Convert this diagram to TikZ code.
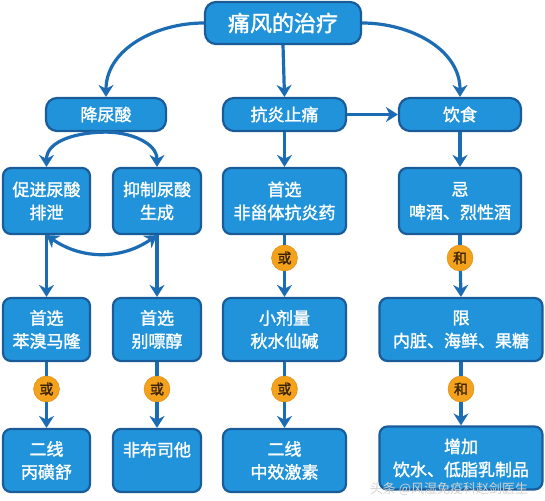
\documentclass[tikz,border=0pt]{standalone}
\usepackage{fontspec}
\setmainfont{Noto Sans CJK SC}[AutoFakeBold=1.6]
\usetikzlibrary{arrows.meta}
\definecolor{boxfill}{HTML}{2193DA}
\definecolor{boxline}{HTML}{1A5C99}
\definecolor{arrcol}{HTML}{1C6CB4}
\definecolor{orfill}{HTML}{F4A11C}
\definecolor{orline}{HTML}{D78509}
\definecolor{ortext}{HTML}{3B2505}

\begin{document}
\begin{tikzpicture}[x=1pt, y=-1pt,
      box/.style={draw=boxline, fill=boxfill, line width=2.2pt, rounded corners=8pt,
                  align=center, inner sep=0pt, text=white,
                  font={\bfseries\fontsize{17}{23}\selectfont}},   % one blue box per step
      link/.style={draw=orline, fill=orfill, circle, minimum size=26pt, inner sep=0pt,
                   text=ortext, font={\bfseries\fontsize{14}{14}\selectfont}},  % 或 / 和
      arr/.style={draw=arrcol, line width=3.2pt, -{Stealth[length=12pt, width=15pt]}},
      dbl/.style={draw=arrcol, line width=3.2pt, {Stealth[length=12pt, width=15pt]}-{Stealth[length=12pt, width=15pt]}},
      line/.style={draw=arrcol, line width=3.2pt}]
    \useasboundingbox (0,0) rectangle (545,500);
    % top and second row
    \node[box, minimum width=156pt, minimum height=42pt, rounded corners=11pt,
          font={\bfseries\fontsize{22}{26}\selectfont}] (title) at (283,23) {痛风的治疗};
    \node[box, minimum width=120pt, minimum height=33pt, rounded corners=11pt] (jns) at (106,114.5) {降尿酸};
    \node[box, minimum width=123pt, minimum height=33pt, rounded corners=11pt] (kyzt) at (284.5,114.5) {抗炎止痛};
    \node[box, minimum width=122pt, minimum height=33pt, rounded corners=11pt] (ys) at (460,114.5) {饮食};
    % third row
    \node[box, minimum width=87pt, minimum height=66pt] (cj) at (46.5,201) {促进尿酸\\排泄};
    \node[box, minimum width=88pt, minimum height=66pt] (yz) at (157,201) {抑制尿酸\\生成};
    \node[box, minimum width=123pt, minimum height=66pt] (nsaid) at (284.5,201) {首选\\非甾体抗炎药};
    \node[box, minimum width=122pt, minimum height=66pt] (ji) at (460,201) {忌\\啤酒、烈性酒};
    % fourth row
    \node[box, minimum width=87pt, minimum height=63pt] (bx) at (46.5,329.5) {首选\\苯溴马隆};
    \node[box, minimum width=88pt, minimum height=63pt] (bpc) at (157,329.5) {首选\\别嘌醇};
    \node[box, minimum width=123pt, minimum height=63pt] (xjl) at (284.5,329.5) {小剂量\\秋水仙碱};
    \node[box, minimum width=163pt, minimum height=63pt] (xian) at (461,329.5) {限\\内脏、海鲜、果糖};
    % bottom row
    \node[box, minimum width=87pt, minimum height=63pt] (bhs) at (46.5,460.5) {二线\\丙磺舒};
    \node[box, minimum width=88pt, minimum height=63pt] (fbst) at (157,460.5) {非布司他\\\mbox{}};
    \node[box, minimum width=123pt, minimum height=63pt] (jisu) at (284.5,460.5) {二线\\中效激素};
    \node[box, minimum width=163pt, minimum height=63pt] (zj) at (461,458) {增加\\饮水、低脂乳制品};
    % or / and circles
    \node[link] (o1) at (284.5,258) {或};
    \node[link] (a1) at (460,258) {和};
    \node[link] (o2) at (46.5,389) {或};
    \node[link] (o3) at (157,389) {或};
    \node[link] (o4) at (284.5,389) {或};
    \node[link] (a2) at (461,389) {和};
    % connectors
    \draw[arr] (title.west) to[out=180, in=90] (jns.north);
    \draw[arr] (title.south) -- (kyzt.north);
    \draw[arr] (title.east) to[out=0, in=90] (ys.north);
    \draw[arr] (kyzt.east) -- (ys.west);
    \draw[arr] (jns.south) to[out=180, in=90] (cj.north);
    \draw[arr] (jns.south) to[out=0, in=90] (yz.north);
    \draw[arr] (kyzt.south) -- (nsaid.north);
    \draw[arr] (ys.south) -- (ji.north);
    \draw[dbl] (cj.south) to[bend right=35] (yz.south);   % both ways
    \draw[arr] (cj.south) -- (bx.north);
    \draw[arr] (yz.south) -- (bpc.north);
    \draw[line] (nsaid.south) -- (o1);
    \draw[arr] (o1) -- (xjl.north);
    \draw[line] (ji.south) -- (a1);
    \draw[arr] (a1) -- (xian.north);
    \draw[line] (bx.south) -- (o2);
    \draw[arr] (o2) -- (bhs.north);
    \draw[line] (bpc.south) -- (o3);
    \draw[arr] (o3) -- (fbst.north);
    \draw[line] (xjl.south) -- (o4);
    \draw[arr] (o4) -- (jisu.north);
    \draw[line] (xian.south) -- (a2);
    \draw[arr] (a2) -- (zj.north);
    % watermark
    \node[text=gray!35, font={\fontsize{13}{13}\selectfont}] (wm) at (449,489) {头条 @风湿免疫科赵剑医生};
  \end{tikzpicture}
\end{document}
